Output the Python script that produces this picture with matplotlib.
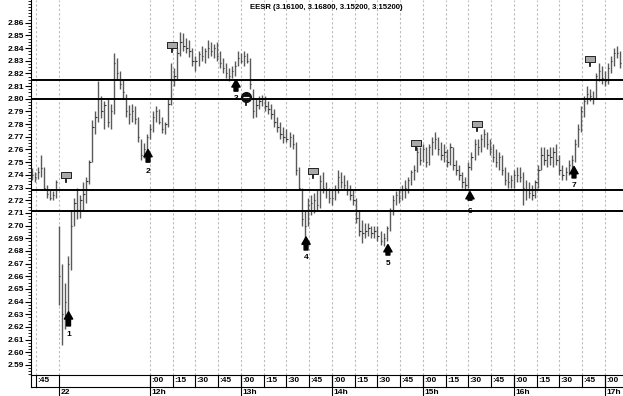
import numpy as np
import matplotlib
matplotlib.use("Agg")
import matplotlib.pyplot as plt
from matplotlib.ticker import MultipleLocator, FormatStrFormatter

plt.rcParams["font.family"] = ["Liberation Sans", "DejaVu Sans"]
plt.rcParams["font.weight"] = "bold"
plt.rcParams["font.size"] = 6

TITLE = "EESR (3.16100, 3.16800, 3.15200, 3.15200)"

# bar times in minutes from 11:00 on the 22nd (negatives = end of previous day)
bar_minutes = np.arange(-18, 372, 2)

lows = [
    2.736, 2.734, 2.737, 2.738, 2.728, 2.722, 2.720, 2.720, 2.722,
    2.637, 2.606, 2.618, 2.630, 2.665, 2.700, 2.705, 2.706, 2.712, 2.718,
    2.733, 2.750, 2.772, 2.782, 2.785, 2.776, 2.778, 2.776, 2.788, 2.815,
    2.808, 2.800, 2.786, 2.780, 2.782, 2.780, 2.766, 2.752, 2.753, 2.758,
    2.768, 2.774, 2.782, 2.780, 2.773, 2.772, 2.778, 2.795, 2.810, 2.815,
    2.834, 2.838, 2.836, 2.833, 2.826, 2.822, 2.826, 2.830, 2.828, 2.832,
    2.834, 2.832, 2.830, 2.824, 2.820, 2.816, 2.814, 2.816, 2.818, 2.826,
    2.828, 2.826, 2.828, 2.808, 2.785, 2.786, 2.792, 2.794, 2.790, 2.788,
    2.784, 2.778, 2.774, 2.768, 2.765, 2.766, 2.762, 2.760, 2.740, 2.728,
    2.700, 2.682, 2.700, 2.708, 2.710, 2.712, 2.714, 2.726, 2.722, 2.718,
    2.716, 2.720, 2.726, 2.730, 2.728, 2.724, 2.720, 2.716, 2.702, 2.692,
    2.686, 2.690, 2.692, 2.690, 2.690, 2.688, 2.685, 2.684, 2.688, 2.696,
    2.708, 2.716, 2.718, 2.720, 2.722, 2.726, 2.732, 2.736, 2.742, 2.748,
    2.750, 2.746, 2.748, 2.756, 2.760, 2.756, 2.752, 2.750, 2.746, 2.748,
    2.744, 2.740, 2.736, 2.730, 2.728, 2.730, 2.744, 2.752, 2.756, 2.758,
    2.762, 2.760, 2.756, 2.750, 2.746, 2.744, 2.740, 2.732, 2.730, 2.730,
    2.730, 2.734, 2.734, 2.716, 2.720, 2.722, 2.720, 2.722, 2.730, 2.744,
    2.748, 2.746, 2.748, 2.746, 2.748, 2.740, 2.736, 2.736, 2.740, 2.744,
    2.750, 2.762, 2.774, 2.786, 2.796, 2.798, 2.796, 2.800, 2.814, 2.812,
    2.810, 2.812, 2.820, 2.826, 2.832, 2.824,
]

highs = [
    2.745, 2.742, 2.746, 2.756, 2.746, 2.732, 2.728, 2.727, 2.736,
    2.700, 2.670, 2.655, 2.676, 2.712, 2.722, 2.730, 2.724, 2.734, 2.738,
    2.752, 2.783, 2.790, 2.814, 2.802, 2.798, 2.800, 2.796, 2.836, 2.832,
    2.822, 2.815, 2.804, 2.795, 2.796, 2.794, 2.786, 2.768, 2.765, 2.772,
    2.780, 2.790, 2.794, 2.792, 2.786, 2.782, 2.800, 2.828, 2.824, 2.840,
    2.853, 2.852, 2.848, 2.846, 2.840, 2.834, 2.838, 2.842, 2.840, 2.846,
    2.845, 2.843, 2.845, 2.838, 2.832, 2.828, 2.824, 2.826, 2.830, 2.838,
    2.836, 2.838, 2.836, 2.832, 2.808, 2.800, 2.802, 2.803, 2.802, 2.798,
    2.796, 2.792, 2.786, 2.782, 2.778, 2.776, 2.774, 2.772, 2.766, 2.746,
    2.730, 2.712, 2.722, 2.724, 2.726, 2.728, 2.740, 2.742, 2.734, 2.730,
    2.728, 2.732, 2.744, 2.742, 2.740, 2.736, 2.732, 2.728, 2.722, 2.712,
    2.704, 2.702, 2.702, 2.700, 2.700, 2.700, 2.696, 2.694, 2.700, 2.714,
    2.724, 2.727, 2.728, 2.732, 2.736, 2.738, 2.744, 2.748, 2.762, 2.762,
    2.764, 2.762, 2.764, 2.770, 2.774, 2.770, 2.766, 2.764, 2.760, 2.765,
    2.762, 2.752, 2.748, 2.742, 2.738, 2.750, 2.758, 2.768, 2.768, 2.772,
    2.776, 2.774, 2.768, 2.764, 2.760, 2.758, 2.756, 2.746, 2.742, 2.740,
    2.744, 2.746, 2.746, 2.742, 2.736, 2.734, 2.732, 2.736, 2.748, 2.762,
    2.762, 2.760, 2.762, 2.762, 2.764, 2.756, 2.748, 2.746, 2.752, 2.756,
    2.768, 2.780, 2.794, 2.802, 2.810, 2.808, 2.806, 2.820, 2.828, 2.826,
    2.822, 2.828, 2.834, 2.840, 2.842, 2.838,
]

closes = [
    2.740, 2.738, 2.742, 2.745, 2.730, 2.725, 2.722, 2.724, 2.734,
    2.660, 2.630, 2.640, 2.670, 2.700, 2.718, 2.712, 2.720, 2.725, 2.735,
    2.750, 2.778, 2.786, 2.800, 2.790, 2.795, 2.782, 2.790, 2.828, 2.820,
    2.812, 2.805, 2.790, 2.788, 2.790, 2.784, 2.770, 2.756, 2.760, 2.770,
    2.776, 2.786, 2.790, 2.782, 2.776, 2.780, 2.796, 2.815, 2.818, 2.836,
    2.845, 2.842, 2.840, 2.838, 2.830, 2.830, 2.835, 2.834, 2.838, 2.840,
    2.838, 2.840, 2.834, 2.828, 2.824, 2.820, 2.818, 2.822, 2.826, 2.832,
    2.830, 2.834, 2.830, 2.812, 2.790, 2.795, 2.798, 2.800, 2.794, 2.792,
    2.788, 2.782, 2.778, 2.772, 2.770, 2.768, 2.770, 2.764, 2.744, 2.730,
    2.705, 2.700, 2.716, 2.718, 2.720, 2.716, 2.735, 2.730, 2.728, 2.722,
    2.722, 2.728, 2.738, 2.734, 2.732, 2.728, 2.724, 2.720, 2.706, 2.696,
    2.694, 2.696, 2.698, 2.694, 2.696, 2.692, 2.688, 2.690, 2.698, 2.712,
    2.720, 2.724, 2.722, 2.728, 2.730, 2.736, 2.742, 2.744, 2.758, 2.752,
    2.760, 2.750, 2.762, 2.766, 2.768, 2.760, 2.756, 2.758, 2.750, 2.762,
    2.748, 2.744, 2.740, 2.734, 2.732, 2.746, 2.754, 2.764, 2.762, 2.768,
    2.772, 2.764, 2.760, 2.754, 2.750, 2.754, 2.744, 2.736, 2.734, 2.736,
    2.740, 2.740, 2.738, 2.730, 2.728, 2.726, 2.724, 2.734, 2.744, 2.756,
    2.752, 2.756, 2.754, 2.758, 2.752, 2.744, 2.740, 2.742, 2.748, 2.752,
    2.764, 2.776, 2.790, 2.798, 2.804, 2.802, 2.800, 2.818, 2.822, 2.816,
    2.814, 2.824, 2.830, 2.836, 2.836, 2.828,
]

# support / resistance levels
levels = [2.8146, 2.8000, 2.7278, 2.7117]

# numbered signal arrows: minute, arrow tip, arrow tail, label
signal_minutes = [6.3, 58.7, 116.7, 162.9, 216.9, 271.0, 339.6]
signal_tips = [2.632, 2.7600, 2.8150, 2.691, 2.6850, 2.7268, 2.7466]
signal_tails = [2.6208, 2.750, 2.806, 2.6807, 2.6767, 2.720, 2.7375]
signal_labels = ["1", "2", "3", "4", "5", "6", "7"]
signal_label_prices = [2.6144, 2.743, 2.800, 2.6744, 2.6704, 2.7114, 2.7312]

# small flag markers (box + stem)
flag_minutes = [4.6, 74.5, 167.5, 235.4, 275.6, 350.1]
flag_prices = [2.7398, 2.8424, 2.743, 2.765, 2.780, 2.8313]
circle_minute = 123.3
circle_price = 2.8014

# time axis labels
minute_ticks = [-15] + list(range(60, 361, 15))
minute_labels = [":45"] + [":00", ":15", ":30", ":45"] * 5 + [":00"]
hour_ticks = [0, 60, 120, 180, 240, 300, 360]
hour_labels = ["22", "12h", "13h", "14h", "15h", "16h", "17h"]

XLIM = (-18.46, 371.9)
YLIM = (2.5821, 2.8779)


def draw_bars(ax):

    ax.vlines(
        bar_minutes,
        lows,
        highs,
        color="#5a5a5a",
        lw=1.0,
        zorder=3
    )

    ax.hlines(
        closes,
        bar_minutes,
        bar_minutes + 0.9,
        color="#333333",
        lw=0.8,
        zorder=3
    )


def draw_time_axis(ax):

    trans = ax.get_xaxis_transform()

    row1_y = -6 / 375
    row_split = -11.7 / 375
    row2_y = -17 / 375
    bottom = -21 / 375

    ax.plot(
        [0, 1], [row_split, row_split],
        transform=ax.transAxes, color="black", lw=0.8, clip_on=False
    )
    ax.plot(
        [0, 0], [0, row_split],
        transform=ax.transAxes, color="black", lw=0.8, clip_on=False
    )

    for t, lab in zip(minute_ticks, minute_labels):
        ax.plot([t, t], [0, row_split], transform=trans,
                color="black", lw=0.8, clip_on=False)
        ax.text(t + 0.8, row1_y, lab, transform=trans,
                ha="left", va="center", fontsize=6)

    for t, lab in zip(hour_ticks, hour_labels):
        ax.plot([t, t], [0, bottom], transform=trans,
                color="black", lw=0.8, clip_on=False)
        ax.text(t + 0.8, row2_y, lab, transform=trans,
                ha="left", va="center", fontsize=6)


def main():

    fig = plt.figure(figsize=(6.23, 3.96), dpi=100)

    ax = fig.add_axes([31 / 623, 21 / 396, 592 / 623, 375 / 396])

    ax.set_xlim(*XLIM)
    ax.set_ylim(*YLIM)

    for t in minute_ticks + [0]:
        ax.axvline(t, color="#bbbbbb", lw=0.8,
                   ls=(0, (2, 2)), zorder=0)

    for lev in levels:
        ax.axhline(lev, color="black", lw=1.4, zorder=4)

    draw_bars(ax)

    # flags
    box = [(-1.8, -1), (1.8, -1), (1.8, 1), (-1.8, 1), (-1.8, -1)]
    for t, p in zip(flag_minutes, flag_prices):
        ax.plot([t, t], [p, p - 0.0055], color="black", lw=1.2, zorder=5)
        ax.plot(t, p, marker=box, ms=6.5, mfc="#a8a8a8",
                mec="#222222", mew=0.7, zorder=6)

    ax.plot([circle_minute, circle_minute],
            [circle_price, circle_price - 0.006],
            color="black", lw=1.2, zorder=5)
    ax.plot(circle_minute, circle_price, marker="o", ms=7,
            mfc="#111111", mec="#111111", zorder=6)
    ax.plot(circle_minute, circle_price, marker="_", ms=4,
            mec="white", mew=0.8, zorder=7)

    # signal arrows
    for t, tip, tail, lab, lp in zip(signal_minutes, signal_tips,
                                     signal_tails, signal_labels,
                                     signal_label_prices):
        ax.annotate(
            "",
            xy=(t, tip),
            xytext=(t, tail),
            arrowprops=dict(
                arrowstyle="simple,head_width=0.85,head_length=0.75,tail_width=0.4",
                color="black",
                shrinkA=0,
                shrinkB=0,
                mutation_scale=7
            ),
            zorder=6
        )
        ax.text(t, lp, lab, ha="center", va="center",
                fontsize=6, zorder=6)

    ax.text(0.498, 0.979, TITLE, transform=ax.transAxes,
            ha="center", va="center", fontsize=5.6)

    # y axis
    ax.yaxis.set_major_locator(MultipleLocator(0.01))
    ax.yaxis.set_minor_locator(MultipleLocator(0.0025))
    ax.yaxis.set_major_formatter(FormatStrFormatter("%.2f"))
    ax.set_yticks(np.arange(2.59, 2.865, 0.01))
    ax.tick_params(axis="y", which="major", length=4, width=0.8,
                   labelsize=6, pad=1)
    ax.tick_params(axis="y", which="minor", length=2, width=0.6)

    ax.set_xticks([])
    ax.spines["top"].set_visible(False)
    ax.spines["right"].set_visible(False)
    ax.spines["left"].set_linewidth(0.8)
    ax.spines["bottom"].set_linewidth(0.8)

    draw_time_axis(ax)

    fig.savefig("out.png", dpi=100)
    plt.close(fig)


if __name__ == "__main__":
    main()
